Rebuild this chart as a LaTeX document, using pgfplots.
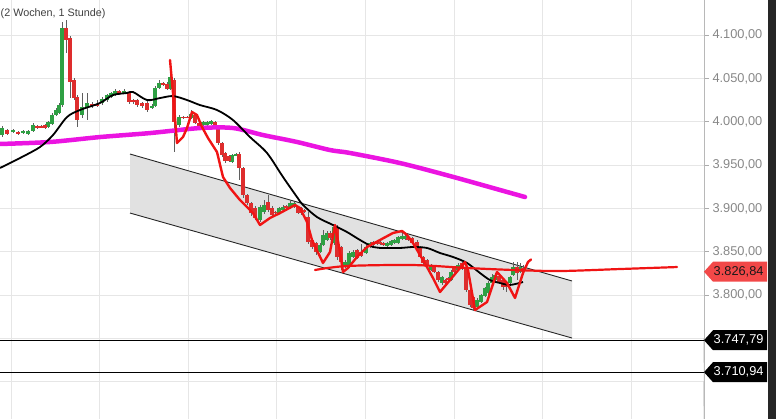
\documentclass[border=0pt]{standalone}
\usepackage{pgfplots}
\usepackage{pgfplotstable}
\pgfplotsset{compat=1.18}
\usepackage{fontspec}
\setmainfont{Liberation Sans}

\definecolor{cgreen}{RGB}{46,160,67}
\definecolor{cred}{RGB}{222,45,45}
\definecolor{wick}{RGB}{95,95,95}
\definecolor{handred}{RGB}{240,20,20}
\definecolor{magentaMA}{RGB}{235,20,225}
\definecolor{chanfill}{RGB}{225,225,225}
\definecolor{gridc}{RGB}{230,230,230}
\definecolor{labelgray}{RGB}{135,135,135}
\definecolor{tagred}{RGB}{242,72,72}

\pgfplotstableread{
x o h l c
2 3984.6 3995.0 3982.3 3992.7
13 3989.3 3991.6 3986.9 3990.4
23 3986.9 3990.4 3985.8 3989.3
28 3985.8 3990.4 3984.6 3989.3
33 3989.3 3998.5 3988.1 3996.2
48 3993.9 4000.8 3992.7 3999.6
52 3997.3 4010.0 3996.2 4007.7
56 4007.7 4015.8 4006.6 4013.5
59 4010.0 4021.6 4008.9 4019.2
62 4019.2 4115.0 4016.9 4108.1
82 4007.7 4033.1 4004.2 4016.9
87 4016.9 4033.1 4001.9 4021.6
102 4021.6 4028.5 4019.2 4026.2
107 4025.0 4031.9 4022.7 4030.8
111 4028.5 4034.3 4027.3 4033.1
115 4030.8 4037.7 4029.6 4035.4
124 4033.1 4037.7 4031.9 4035.4
152 4015.8 4020.4 4014.6 4018.1
155 4018.1 4041.2 4016.9 4038.9
159 4038.9 4048.1 4037.7 4044.6
170 4037.7 4059.6 4036.6 4051.6
179 3996.2 4007.7 3993.9 4005.4
191 4004.2 4013.5 4003.1 4008.9
203 3996.2 4000.8 3995.0 3999.6
207 3996.2 4000.8 3995.0 3999.6
211 3997.3 4001.9 3996.2 4000.8
232 3953.5 3962.7 3952.3 3961.6
236 3961.6 3963.9 3960.4 3962.7
260 3886.6 3903.9 3884.3 3901.6
264 3895.8 3909.6 3893.5 3903.9
279 3894.6 3901.6 3893.5 3900.4
283 3898.1 3903.9 3897.0 3901.6
290 3900.4 3909.6 3899.3 3906.2
294 3901.6 3907.3 3900.4 3906.2
320 3849.6 3860.0 3848.5 3857.7
323 3857.7 3875.0 3856.6 3869.3
327 3863.5 3873.9 3862.3 3871.6
334 3860.0 3879.6 3857.7 3878.5
345 3832.3 3840.4 3831.2 3838.1
349 3834.6 3850.8 3833.5 3848.5
353 3843.9 3851.9 3842.7 3849.6
366 3848.5 3857.7 3847.3 3855.4
370 3855.4 3861.2 3854.3 3860.0
387 3856.6 3861.2 3855.4 3860.0
391 3857.7 3863.5 3856.6 3862.3
394 3860.0 3864.6 3858.9 3863.5
398 3860.0 3868.1 3858.9 3866.9
402 3864.6 3871.6 3863.5 3868.1
405 3864.6 3869.3 3863.5 3868.1
431 3828.9 3835.8 3827.7 3834.6
442 3813.9 3821.9 3811.6 3820.8
451 3817.3 3828.9 3816.2 3826.6
458 3828.9 3837.0 3827.7 3834.6
477 3786.2 3796.6 3783.9 3794.3
481 3791.9 3801.2 3790.8 3800.0
485 3798.9 3809.3 3797.7 3808.1
488 3802.3 3816.2 3794.3 3813.9
492 3813.9 3824.3 3811.6 3820.8
495 3817.3 3825.4 3816.2 3823.1
510 3813.9 3821.9 3811.6 3820.8
513 3823.1 3838.1 3821.9 3832.3
520 3826.6 3837.0 3825.4 3832.3
}\greentab

\pgfplotstableread{
x o h l c
7 3990.4 3991.6 3984.6 3985.8
18 3988.1 3989.3 3984.6 3985.8
37 3995.0 3996.2 3991.6 3992.7
41 3995.0 3996.2 3992.7 3993.9
45 3996.2 3997.3 3991.6 3992.7
66 4108.1 4117.3 4079.2 4094.2
70 4096.6 4098.9 4027.3 4045.8
74 4048.1 4050.4 4025.0 4027.3
77 4028.5 4030.8 3993.9 4001.9
92 4020.4 4022.7 4015.8 4018.1
97 4020.4 4025.0 4016.9 4019.2
119 4035.4 4036.6 4030.8 4033.1
129 4033.1 4034.3 4020.4 4022.7
133 4025.0 4026.2 4020.4 4022.7
137 4025.0 4026.2 4016.9 4019.2
142 4021.6 4022.7 4015.8 4018.1
147 4021.6 4023.9 4011.2 4013.5
163 4044.6 4045.8 4041.2 4042.3
167 4043.5 4045.8 4036.6 4037.7
174 4048.1 4050.4 3965.0 3999.6
183 4005.4 4006.6 4003.1 4004.8
187 4005.4 4006.6 4004.2 4004.8
195 4007.7 4008.9 3997.3 3998.5
199 3998.5 3999.6 3993.9 3995.0
215 3999.6 4000.8 3992.7 3993.9
218 3993.9 3995.0 3973.1 3975.4
222 3975.4 3976.6 3959.3 3961.6
225 3963.9 3965.0 3952.3 3954.6
229 3960.4 3961.6 3953.5 3954.6
239 3962.7 3965.0 3932.7 3946.6
243 3946.6 3947.7 3911.9 3915.4
247 3915.4 3916.6 3903.9 3906.2
251 3906.2 3907.3 3891.2 3894.6
255 3900.4 3902.7 3886.6 3888.9
268 3907.3 3915.4 3895.8 3898.1
272 3900.4 3902.7 3891.2 3892.3
275 3895.8 3897.0 3893.5 3895.2
286 3902.7 3903.9 3899.3 3900.4
298 3901.6 3902.7 3893.5 3894.6
301 3900.4 3901.6 3892.3 3894.6
304 3898.1 3899.3 3894.6 3897.0
308 3890.0 3895.8 3858.9 3861.2
312 3863.5 3865.8 3853.1 3855.4
316 3860.0 3861.2 3846.2 3849.6
330 3871.6 3873.9 3863.5 3865.8
337 3878.5 3880.8 3840.4 3843.9
341 3855.4 3856.6 3828.9 3838.1
357 3851.9 3853.1 3841.6 3842.7
361 3849.6 3858.9 3843.9 3845.0
373 3861.2 3862.3 3856.6 3857.7
377 3860.0 3861.2 3857.7 3859.4
380 3861.2 3862.3 3857.7 3858.9
383 3860.0 3861.2 3856.6 3857.7
408 3866.9 3868.1 3862.3 3863.5
412 3865.8 3866.9 3858.9 3860.0
417 3861.2 3863.5 3853.1 3855.4
420 3855.4 3856.6 3842.7 3843.9
423 3843.9 3845.0 3834.6 3837.0
427 3840.4 3841.6 3831.2 3833.5
434 3832.3 3833.5 3825.4 3826.6
438 3826.6 3827.7 3815.0 3817.3
445 3817.3 3818.5 3812.7 3813.9
448 3819.6 3820.8 3816.2 3817.3
454 3831.2 3832.3 3825.4 3826.6
462 3837.0 3838.1 3828.9 3831.2
466 3831.2 3838.1 3803.5 3805.8
470 3805.8 3806.9 3786.2 3788.5
473 3797.7 3798.9 3782.7 3785.0
499 3821.9 3823.1 3812.7 3815.0
503 3817.3 3818.5 3805.8 3809.3
506 3813.9 3815.0 3803.5 3809.3
517 3832.3 3838.1 3817.3 3825.4
523 3831.2 3834.6 3823.1 3826.8
}\redtab

\pgfplotstableread{
x y
0 3946.6
20 3958.1
40 3970.8
53 3984.6
67 4005.4
80 4013.5
100 4021.6
113 4030.8
127 4033.1
133 4034.3
147 4025.0
160 4027.3
173 4029.6
187 4025.0
200 4019.2
217 4013.5
233 4001.9
250 3982.3
267 3963.9
283 3936.2
297 3913.1
303 3903.9
317 3890.0
333 3880.8
347 3872.7
360 3863.5
373 3855.4
380 3854.3
400 3854.3
413 3855.4
427 3854.3
440 3848.5
453 3843.9
467 3837.0
480 3825.4
490 3817.3
500 3813.9
510 3811.6
523 3815.0
}\blackma

\pgfplotstableread{
x y
0 3974.3
50 3976.6
100 3982.3
150 3986.9
200 3992.7
233 3992.7
263 3984.6
297 3976.6
330 3967.3
350 3963.9
400 3952.3
450 3937.3
500 3921.2
525 3913.1
}\magma

\pgfplotstableread{
x y
170 4071.2
173 4033.1
177 3975.4
183 3982.3
187 3992.7
192 4011.2
197 4007.7
202 3993.9
208 3981.2
217 3965.0
223 3936.2
230 3923.5
240 3909.6
253 3894.6
260 3880.8
270 3888.9
280 3894.6
295 3903.9
300 3900.4
307 3884.3
312 3863.5
323 3837.0
330 3849.6
335 3880.8
340 3849.6
343 3826.6
348 3831.2
357 3843.9
367 3855.4
380 3863.5
393 3871.6
402 3873.9
407 3869.3
413 3860.0
420 3846.2
427 3832.3
433 3819.6
440 3803.5
450 3817.3
460 3831.2
465 3838.1
468 3828.9
475 3782.7
487 3791.9
497 3826.6
507 3813.9
515 3796.6
523 3825.4
528 3838.1
531 3841.0
}\handline

\pgfplotstableread{
x y
315 3828.9
347 3833.5
413 3834.6
467 3831.2
513 3828.9
560 3827.7
620 3830.0
677 3832.3
}\handflat

\begin{document}
\begin{tikzpicture}
\useasboundingbox (0,0) rectangle (776bp,419bp);
\begin{axis}[
  at={(0,0)}, anchor=south west,
  width=704bp, height=419bp, scale only axis,
  xmin=0, xmax=704, ymin=3656.9, ymax=4140.4,
  clip=false,
  axis line style={draw=none},
  xtick=\empty,
  ytick={3800,3850,...,4100},
  ytick pos=right, yticklabel pos=right,
  tick align=outside,
  major tick length=5bp,
  ytick style={draw=labelgray!70, line width=0.6bp},
  ymajorgrids,
  major grid style={draw=gridc, line width=0.8bp},
  yticklabel style={font=\fontsize{12.8bp}{15bp}\selectfont, text=labelgray},
  /pgf/number format/.cd, fixed, fixed zerofill, precision=2, use comma, 1000 sep={.}, assume math mode=true,
]
% vertical grid lines and lower horizontal grid lines
\pgfplotsinvokeforeach{11,99.6,188.2,276.8,365.4,454,542.6,631.2}{
  \draw[draw=gridc, line width=0.8bp] (axis cs:#1,3656.9) -- (axis cs:#1,4140.4);
}
\pgfplotsinvokeforeach{3700,3750}{
  \draw[draw=gridc, line width=0.8bp] (axis cs:0,#1) -- (axis cs:704,#1);
  \draw[draw=labelgray!70, line width=0.6bp] (axis cs:704,#1) -- ++(5bp,0);
}
% channel
\addplot[fill=chanfill, draw=none, forget plot] coordinates {(130,3962.7) (572,3816.2) (572,3750.4) (130,3894.6) (130,3962.7)};
\addplot[black!85, line width=0.9bp, forget plot] coordinates {(130,3962.7) (572,3816.2)};
\addplot[black!85, line width=0.9bp, forget plot] coordinates {(130,3894.6) (572,3750.4)};
% horizontal support lines
\addplot[black, line width=0.9bp, forget plot] coordinates {(0,3747.79) (704,3747.79)};
\addplot[black, line width=0.9bp, forget plot] coordinates {(0,3710.94) (704,3710.94)};
% wicks
\addplot[forget plot, draw=none, mark=none, error bars/.cd, y dir=both, y explicit, error mark=none,
  error bar style={line width=0.8bp, draw=wick, solid}]
  table[x=x, y expr={(\thisrow{h}+\thisrow{l})/2}, y error expr={(\thisrow{h}-\thisrow{l})/2}] {\greentab};
\addplot[forget plot, draw=none, mark=none, error bars/.cd, y dir=both, y explicit, error mark=none,
  error bar style={line width=0.8bp, draw=wick, solid}]
  table[x=x, y expr={(\thisrow{h}+\thisrow{l})/2}, y error expr={(\thisrow{h}-\thisrow{l})/2}] {\redtab};
% bodies
\addplot[forget plot, draw=none, mark=none, error bars/.cd, y dir=both, y explicit, error mark=none,
  error bar style={line width=3.4bp, draw=cgreen, solid}]
  table[x=x, y expr={(\thisrow{o}+\thisrow{c})/2}, y error expr={max(abs(\thisrow{o}-\thisrow{c})/2,0.6)}] {\greentab};
\addplot[forget plot, draw=none, mark=none, error bars/.cd, y dir=both, y explicit, error mark=none,
  error bar style={line width=3.4bp, draw=cred, solid}]
  table[x=x, y expr={(\thisrow{o}+\thisrow{c})/2}, y error expr={max(abs(\thisrow{o}-\thisrow{c})/2,0.6)}] {\redtab};
% moving averages
\addplot[magentaMA, line width=4.5bp, smooth, line cap=round] table[x=x,y=y] {\magma};
\addplot[black, line width=1.8bp, smooth, line join=round] table[x=x,y=y] {\blackma};
% hand drawn lines
\addplot[handred, line width=2.4bp, line join=round, line cap=round] table[x=x,y=y] {\handline};
\addplot[handred, line width=2.2bp, smooth, line cap=round] table[x=x,y=y] {\handflat};
% right axis line
\draw[draw=gridc!80!black, line width=0.8bp] (rel axis cs:1,0) -- (rel axis cs:1,1);
\coordinate (tagA) at (axis cs:704,3826.84);
\coordinate (tagB) at (axis cs:704,3747.79);
\coordinate (tagC) at (axis cs:704,3710.94);
\end{axis}
% price tags
\fill[tagred] (tagA) -- ++(9bp,10bp) -- ++(54bp,0) -- ++(0,-20bp) -- ++(-54bp,0) -- cycle;
\node[anchor=west, inner sep=0pt, font=\fontsize{12.8bp}{15bp}\selectfont, text=black!90] at ([xshift=9.5bp]tagA) {3.826,84};
\fill[black] (tagB) -- ++(9bp,10bp) -- ++(54bp,0) -- ++(0,-20bp) -- ++(-54bp,0) -- cycle;
\node[anchor=west, inner sep=0pt, font=\fontsize{12.8bp}{15bp}\selectfont, text=white] at ([xshift=9.5bp]tagB) {3.747,79};
\fill[black] (tagC) -- ++(9bp,10bp) -- ++(54bp,0) -- ++(0,-20bp) -- ++(-54bp,0) -- cycle;
\node[anchor=west, inner sep=0pt, font=\fontsize{12.8bp}{15bp}\selectfont, text=white] at ([xshift=9.5bp]tagC) {3.710,94};
% right scrollbar
\fill[black!85] (768bp,0) rectangle (776bp,419bp);
% header text
\node[anchor=base west, inner sep=0pt, font=\fontsize{10.8bp}{13bp}\selectfont, text=black!75] at (0.5bp,402bp) {(2 Wochen, 1 Stunde)};
\end{tikzpicture}
\end{document}
